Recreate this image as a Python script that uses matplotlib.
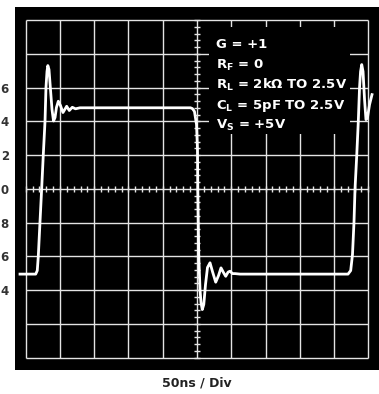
import matplotlib.pyplot as plt
from matplotlib.patches import Rectangle
import numpy as np

# scope trace, time in ns (50ns/div) and volts (0.2V/div)
trace_t = [-8.3, 14.6, 16.9, 18.4, 20.9, 23.4, 25.7, 28.2, 29.6, 31.1, 32.3, 34.0,
           36.2, 38.4, 40.6, 42.8, 44.9, 47.6, 50.8, 54.4, 59.8, 63.6, 68.0, 72.7,
           79.2, 240.5, 243.4, 246.3, 249.3, 250.7, 251.2, 251.9, 252.6, 254.4,
           255.8, 257.7, 259.9, 262.4, 265.3, 269.0, 272.6, 277.3, 281.4, 285.0,
           288.7, 291.9, 295.4, 298.2, 301.8, 305.5, 312.8, 470.4, 474.3, 476.9,
           479.1, 480.6, 483.1, 485.4, 487.2, 488.7, 490.4, 492.3, 494.5, 496.6,
           498.8, 501.8, 505.4]
trace_v = [1.495, 1.495, 1.516, 1.601, 1.806, 2.008, 2.203, 2.400, 2.600, 2.695, 2.730, 2.707,
           2.588, 2.470, 2.402, 2.422, 2.482, 2.519, 2.493, 2.452, 2.489, 2.464, 2.483, 2.474,
           2.480, 2.480, 2.475, 2.458, 2.381, 2.233, 1.996, 1.800, 1.599, 1.404,
           1.327, 1.285, 1.315, 1.433, 1.534, 1.562, 1.510, 1.447, 1.486, 1.532,
           1.504, 1.482, 1.507, 1.512, 1.498, 1.498, 1.495, 1.495, 1.516, 1.611,
           1.802, 2.000, 2.197, 2.400, 2.600, 2.695, 2.736, 2.695, 2.529, 2.410,
           2.422, 2.499, 2.558]

# left labels (only the last digit shows in the original)
ytick_vals = [2.6, 2.4, 2.2, 2.0, 1.8, 1.6, 1.4]
ytick_text = ["6", "4", "2", "0", "8", "6", "4"]

notes = ["G = +1",
         r"R$_{\mathbf{F}}$ = 0",
         r"R$_{\mathbf{L}}$ = 2kΩ TO 2.5V",
         r"C$_{\mathbf{L}}$ = 5pF TO 2.5V",
         r"V$_{\mathbf{S}}$ = +5V"]
note_y = [2.835, 2.7125, 2.592, 2.474, 2.355]

plt.rcParams['mathtext.fontset'] = 'dejavusans'

fig = plt.figure(figsize=(3.79, 3.94), dpi=100)
ax = fig.add_axes([15 / 379, 24.5 / 394, 364 / 379, 362.5 / 394])
ax.set_facecolor("black")
ax.set_xlim(-15.6, 515.6)
ax.set_ylim(0.930, 3.077)
for s in ax.spines.values():
    s.set_visible(False)

# graticule
gc = "#e4e4e4"
ax.vlines(np.arange(0, 501, 50), 1.0, 3.0, colors=gc, lw=1.0, zorder=1)
ax.hlines(np.arange(1.0, 3.01, 0.2), 0, 500, colors=gc, lw=1.0, zorder=1)

# minor ticks on center axes
tx = np.arange(0, 501, 10)
ax.vlines(tx, 2.0 - 0.018, 2.0 + 0.018, colors=gc, lw=1.0, zorder=1)
ty = np.arange(1.0, 3.001, 0.04)
ax.hlines(ty, 250 - 4.4, 250 + 4.4, colors=gc, lw=1.0, zorder=1)

# text box hides grid
ax.add_patch(Rectangle((267.5, 2.322), 205.8, 0.639, facecolor="black",
                       edgecolor="none", zorder=3))
for s, y in zip(notes, note_y):
    ax.text(277.7, y, s, color="white", fontsize=9.5, fontweight="bold",
            va="baseline", ha="left", zorder=4)

ax.plot(trace_t, trace_v, color="white", lw=2.0, zorder=5,
        solid_joinstyle="round", clip_on=False)

ax.set_xticks([])
ax.set_yticks(ytick_vals)
ax.set_yticklabels(ytick_text, fontsize=8.5, fontweight="bold", color="#333333")
ax.tick_params(axis="y", length=0, pad=4.5)

fig.text(197.3 / 379, 7 / 394, "50ns / Div", ha="center", va="baseline",
         fontsize=9, fontweight="bold", color="#222222")

fig.savefig("out.png", dpi=100)
